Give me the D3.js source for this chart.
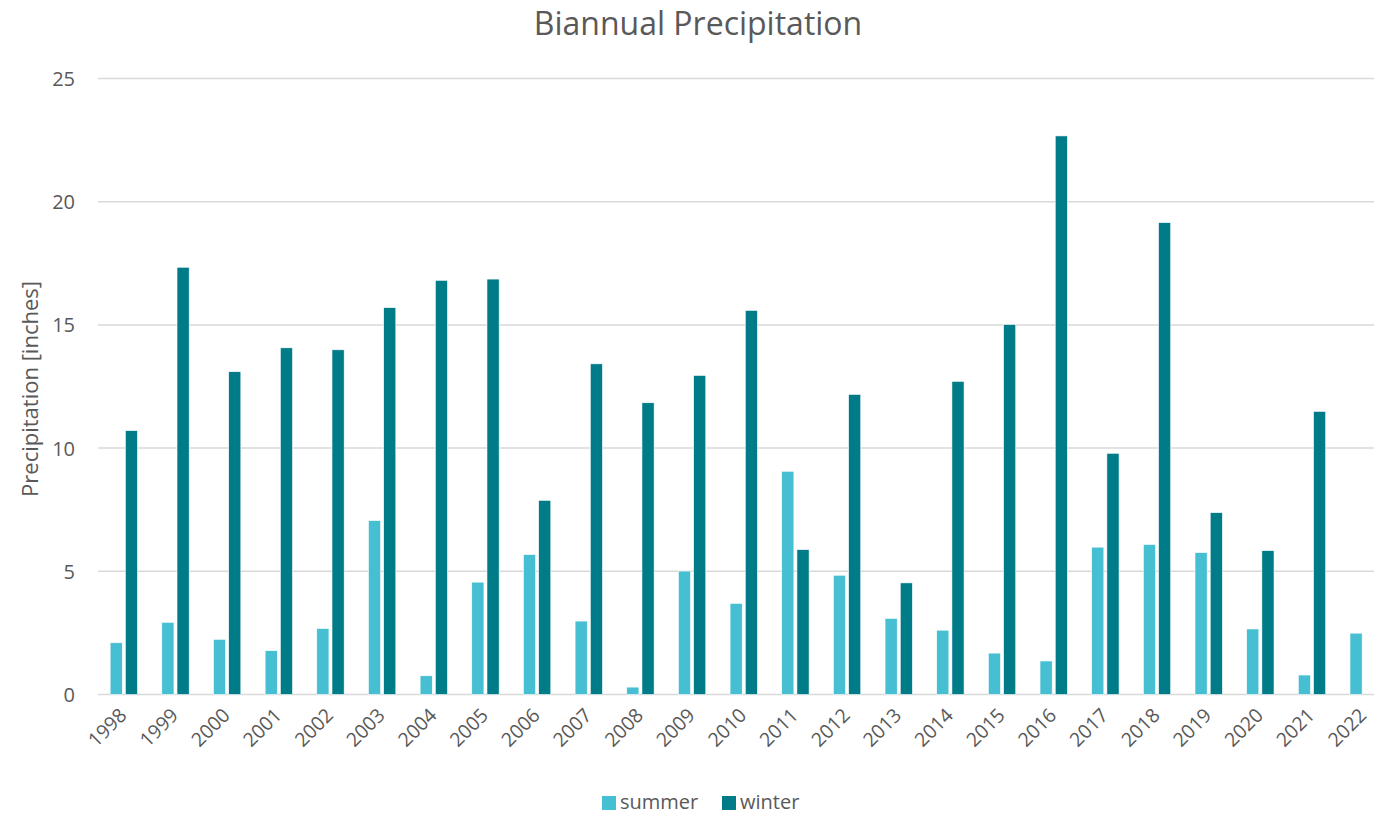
<!DOCTYPE html>
<html>
<head>
<meta charset="utf-8">
<script src="https://cdn.jsdelivr.net/npm/d3@7"></script>
<style>
  html, body { margin: 0; padding: 0; background: #fff; }
  svg { display: block; }
  text { font-family: "Open Sans", "Noto Sans", sans-serif; fill: #595959; }
</style>
</head>
<body>
<svg id="chart" width="1374" height="816"></svg>
<script>
const years = ["1998","1999","2000","2001","2002","2003","2004","2005","2006","2007","2008","2009","2010","2011","2012","2013","2014","2015","2016","2017","2018","2019","2020","2021","2022"];
const summer = [2.10, 2.93, 2.24, 1.78, 2.68, 7.06, 0.76, 4.56, 5.68, 2.98, 0.30, 5.01, 3.70, 9.06, 4.84, 3.09, 2.61, 1.68, 1.36, 5.98, 6.09, 5.76, 2.66, 0.79, 2.49];
const winter = [10.71, 17.34, 13.10, 14.07, 13.99, 15.70, 16.81, 16.86, 7.88, 13.42, 11.84, 12.95, 15.59, 5.88, 12.18, 4.53, 12.71, 15.02, 22.67, 9.79, 19.15, 7.38, 5.84, 11.49, null];
const seriesNames = ["summer", "winter"];
const seriesColors = ["#47BFD2", "#007C89"];
const yTicks = [0, 5, 10, 15, 20, 25];

(function () {
const svg = d3.select("#chart");
const pLeft = 98, pRight = 1389.5, pTop = 78.5, pBottom = 694.5;

const x0 = d3.scaleBand().domain(years).range([pLeft, pRight]).paddingInner(0.47).paddingOuter(0.235);
const x1 = d3.scaleBand().domain(seriesNames).range([0, x0.bandwidth()]).paddingInner(0.2);
const y = d3.scaleLinear().domain([0, 25]).range([pBottom, pTop]);
const color = d3.scaleOrdinal().domain(seriesNames).range(seriesColors);

// gridlines
svg.append("g").selectAll("line").data(yTicks).join("line")
  .attr("x1", pLeft).attr("x2", pRight)
  .attr("y1", d => y(d)).attr("y2", d => y(d))
  .attr("stroke", "#D9D9D9").attr("stroke-width", 1.5);

// y axis labels
const yAxis = d3.axisLeft(y).tickValues(yTicks).tickSize(0).tickPadding(23);
const yg = svg.append("g").attr("transform", `translate(${pLeft},0)`).call(yAxis);
yg.select(".domain").remove();
yg.selectAll("text").style("font-size", "20px").attr("fill", "#595959").attr("dy", "0.35em")
  .style("font-family", "'Open Sans', sans-serif");

// bars
const data = years.map((yr, i) => ({ year: yr, values: [
  { key: "summer", value: summer[i] },
  { key: "winter", value: winter[i] }
]}));

svg.append("g").selectAll("g").data(data).join("g")
  .attr("transform", d => `translate(${x0(d.year)},0)`)
  .selectAll("rect").data(d => d.values.filter(v => v.value != null)).join("rect")
  .attr("x", d => x1(d.key))
  .attr("width", x1.bandwidth())
  .attr("y", d => y(d.value))
  .attr("height", d => y(0) - y(d.value))
  .attr("fill", d => color(d.key))
  .attr("stroke", "#ffffff").attr("stroke-width", 0.6);

// x axis labels
const xAxis = d3.axisBottom(x0).tickSize(0).tickPadding(0);
const xg = svg.append("g").attr("transform", `translate(0,${pBottom})`).call(xAxis);
xg.select(".domain").remove();
xg.selectAll("text")
  .style("font-size", "19.5px")
  .style("font-family", "'Open Sans', sans-serif")
  .attr("fill", "#595959")
  .attr("text-anchor", "end")
  .attr("dy", null)
  .attr("transform", "translate(4,22) rotate(-45)");

// title
svg.append("text").attr("x", 698).attr("y", 35).attr("text-anchor", "middle")
  .style("font-size", "32px").text("Biannual Precipitation");

// y axis title
svg.append("text").attr("transform", "translate(38,389) rotate(-90)")
  .attr("text-anchor", "middle").style("font-size", "22px").text("Precipitation [inches]");

// legend
const legendItems = [{ key: "summer", x: 602 }, { key: "winter", x: 722 }];
const lg = svg.append("g");
lg.selectAll("rect").data(legendItems).join("rect")
  .attr("x", d => d.x).attr("y", 796).attr("width", 14).attr("height", 14)
  .attr("fill", d => color(d.key));
lg.selectAll("text").data(legendItems).join("text")
  .attr("x", d => d.x + 18).attr("y", 809)
  .style("font-size", "20px").text(d => d.key);
})();
</script>
</body>
</html>
